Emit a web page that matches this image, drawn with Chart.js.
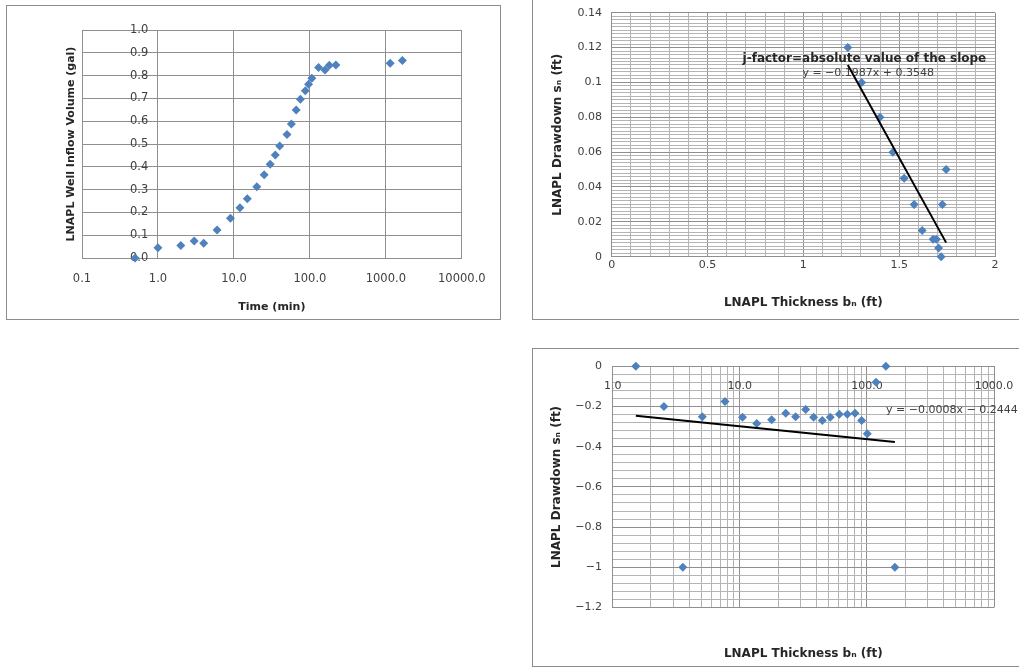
<!DOCTYPE html>
<html>
<head>
<meta charset="utf-8">
<title>LNAPL baildown test</title>
<script src="https://cdn.jsdelivr.net/npm/chart.js@4.4.1/dist/chart.umd.min.js"></script>
<style>
  html, body { margin: 0; padding: 0; background: #fff; width: 1019px; height: 668px; overflow: hidden; position: relative; }
  .panel { position: absolute; border: 1px solid #8c8c8c; background: #fff; }
  .panel canvas { display: block; }
  #p1 { left: 6px; top: 5px; }
  #p2 { left: 532px; top: -10px; }
  #p3 { left: 532px; top: 348px; }
</style>
</head>
<body>
<div class="panel" id="p1"><canvas id="c1" width="493" height="313"></canvas></div>
<div class="panel" id="p2"><canvas id="c2" width="506" height="328"></canvas></div>
<div class="panel" id="p3"><canvas id="c3" width="506" height="317"></canvas></div>
<script>
// ---- Well inflow volume vs. time ----
const p1Time   = [0.5, 1.0, 2.0, 3.0, 4.0, 6.0, 9.0, 12, 15, 20, 25, 30, 35, 40, 50, 57, 66, 75, 87, 96, 106, 130, 158, 180, 220, 1140, 1650];
const p1Volume = [0.0, 0.045, 0.055, 0.075, 0.065, 0.123, 0.174, 0.22, 0.26, 0.313, 0.365, 0.411, 0.452, 0.491, 0.542, 0.588, 0.649, 0.696, 0.734, 0.762, 0.788, 0.835, 0.825, 0.845, 0.847, 0.854, 0.866];
const p1XTicks = [0.1, 1, 10, 100, 1000, 10000];
// time value where the volume labels sit (just left of the 1.0 min line)
const p1LabelAnchor = 0.745;

// ---- Drawdown vs. thickness (linear) ----
const p2Thickness = [1.232, 1.304, 1.40, 1.467, 1.526, 1.578, 1.620, 1.677, 1.694, 1.706, 1.719, 1.725, 1.745];
const p2Drawdown  = [0.12, 0.10, 0.08, 0.06, 0.045, 0.03, 0.015, 0.01, 0.01, 0.005, 0.0, 0.03, 0.05];
const p2Slope = -0.1987;
const p2Intercept = 0.3548;

// ---- Drawdown vs. thickness (log) ----
const p3Thickness = [1.52, 2.53, 3.56, 5.07, 7.65, 10.5, 13.6, 17.8, 23.0, 27.5, 33.0, 38.1, 44.6, 51.5, 60.7, 70.1, 80.6, 90.9, 100.7, 118, 141, 166];
const p3Drawdown  = [0, -0.2, -1.0, -0.251, -0.175, -0.254, -0.284, -0.266, -0.234, -0.251, -0.215, -0.254, -0.27, -0.254, -0.238, -0.238, -0.233, -0.27, -0.336, -0.079, 0, -1.0];
const p3Decades = [1, 10, 100, 1000];
const p3Slope = -0.0008;
const p3Intercept = -0.2444;

const FONT = '"DejaVu Sans", Verdana, sans-serif';
Chart.defaults.font.family = FONT;
Chart.defaults.font.size = 11;
Chart.defaults.color = '#404040';

const BLUE = '#4f81bd';
const GRID_MAJOR = '#8f8f8f';
const GRID_MINOR = '#b4b4b4';
const TITLE_COLOR = '#262626';

const isMultiple = (v, step) => Math.abs(v / step - Math.round(v / step)) < 1e-6;
const signed = s => s.replace('-', '\u2212');
const fmtEq = (m, b) => 'y = ' + (m < 0 ? '\u2212' : '') + Math.abs(m).toFixed(4) + 'x ' + (b < 0 ? '\u2212 ' : '+ ') + Math.abs(b).toFixed(4);
const toPoints = (xs, ys) => xs.map((x, i) => ({ x: x, y: ys[i] }));
const trendPoints = (xs, m, b) => {
  const lo = Math.min(...xs), hi = Math.max(...xs);
  return [{ x: lo, y: m * lo + b }, { x: hi, y: m * hi + b }];
};

// Free text placed at data coordinates, under the datasets
const textNotes = {
  id: 'textNotes',
  beforeDatasetsDraw(chart, args, opts) {
    const { ctx, scales } = chart;
    (opts.items || []).forEach(it => {
      ctx.save();
      ctx.font = it.font;
      ctx.fillStyle = it.color;
      ctx.textAlign = 'left';
      ctx.textBaseline = 'middle';
      ctx.fillText(it.text, scales.x.getPixelForValue(it.x), scales.y.getPixelForValue(it.y));
      ctx.restore();
    });
  }
};

const baseOpts = {
  responsive: false,
  animation: false,
  events: [],
  plugins: { legend: { display: false }, tooltip: { enabled: false } }
};

const markerSet = (pts, r) => ({
  data: pts,
  pointStyle: 'rectRot',
  pointRadius: r,
  backgroundColor: BLUE,
  borderColor: BLUE,
  borderWidth: 0,
  showLine: false,
  clip: false,
  xAxisID: 'x',
  yAxisID: 'y'
});
const trendSet = pts => ({
  data: pts,
  showLine: true,
  borderColor: '#000',
  borderWidth: 2,
  pointRadius: 0,
  clip: false,
  xAxisID: 'x',
  yAxisID: 'y'
});

// Panel 1
new Chart(document.getElementById('c1'), {
  type: 'scatter',
  data: { datasets: [markerSet(toPoints(p1Time, p1Volume), 4.5)] },
  options: Object.assign({}, baseOpts, {
    layout: { padding: { left: 57.4, top: 24, right: 30.5, bottom: 0 } },
    scales: {
      x: {
        type: 'logarithmic', position: 'bottom', min: 0.1, max: 10000,
        afterBuildTicks: s => { s.ticks = p1XTicks.map(v => ({ value: v })); },
        afterFit: s => { s.height = 61; },
        ticks: { padding: 14.4, autoSkip: false, maxRotation: 0, font: { size: 11.5 }, callback: v => Number(v).toFixed(1) },
        grid: { color: GRID_MAJOR, drawTicks: false },
        border: { color: GRID_MAJOR },
        title: { display: true, text: 'Time (min)', color: TITLE_COLOR, font: { size: 11, weight: 'bold' }, padding: { top: 0, bottom: 5.4 } }
      },
      y: {
        type: 'linear', position: { x: p1LabelAnchor }, min: 0, max: 1,
        ticks: { stepSize: 0.1, padding: 0, font: { size: 11.5 }, callback: v => Number(v).toFixed(1) },
        grid: { color: GRID_MAJOR, drawTicks: false },
        border: { display: false }
      },
      yt: {
        type: 'linear', position: 'left',
        afterFit: s => { s.width = 17.6; },
        ticks: { display: false }, grid: { display: false }, border: { display: false },
        title: { display: true, text: 'LNAPL Well Inflow Volume (gal)', color: TITLE_COLOR, font: { size: 11, weight: 'bold' }, padding: 0 }
      }
    }
  })
});

// Panel 2
new Chart(document.getElementById('c2'), {
  type: 'scatter',
  data: { datasets: [
    trendSet(trendPoints(p2Thickness, p2Slope, p2Intercept)),
    markerSet(toPoints(p2Thickness, p2Drawdown), 4.5)
  ] },
  options: Object.assign({}, baseOpts, {
    layout: { padding: { left: 17.4, top: 21.7, right: 44, bottom: 0 } },
    plugins: Object.assign({}, baseOpts.plugins, {
      textNotes: { items: [
        { text: 'j-factor=absolute value of the slope', x: 0.683, y: 0.1137, font: 'bold 12px ' + FONT, color: TITLE_COLOR },
        { text: fmtEq(p2Slope, p2Intercept), x: 0.995, y: 0.1054, font: '11px ' + FONT, color: '#404040' }
      ] }
    }),
    scales: {
      x: {
        type: 'linear', position: 'bottom', min: 0, max: 2,
        afterFit: s => { s.height = 62.3; },
        ticks: { stepSize: 0.1, padding: 2, autoSkip: false, maxRotation: 0,
                 callback: v => isMultiple(v, 0.5) ? String(parseFloat(Number(v).toFixed(1))) : '' },
        grid: { color: c => isMultiple(c.tick.value, 0.5) ? GRID_MAJOR : GRID_MINOR, drawTicks: false },
        border: { color: GRID_MAJOR },
        title: { display: true, text: 'LNAPL Thickness b\u2099 (ft)', color: TITLE_COLOR, font: { size: 12, weight: 'bold' }, padding: { top: 0, bottom: 9.4 } }
      },
      y: {
        type: 'linear', position: 'left', min: 0, max: 0.14,
        afterFit: s => { s.width = 61.3; },
        ticks: { stepSize: 0.002, padding: 9.7, autoSkip: false,
                 callback: v => isMultiple(v, 0.02) ? String(parseFloat(Number(v).toFixed(2))) : '' },
        grid: { color: c => isMultiple(c.tick.value, 0.02) ? GRID_MAJOR : GRID_MINOR, drawTicks: false },
        border: { color: GRID_MAJOR },
        title: { display: true, text: 'LNAPL Drawdown s\u2099 (ft)', color: TITLE_COLOR, font: { size: 12, weight: 'bold' }, padding: 0 }
      }
    }
  }),
  plugins: [textNotes]
});

// Panel 3
const p3GridValues = [];
p3Decades.forEach((d, i) => {
  if (i < p3Decades.length - 1) { for (let k = 1; k < 10; k++) p3GridValues.push(d * k); }
  else p3GridValues.push(d);
});

new Chart(document.getElementById('c3'), {
  type: 'scatter',
  data: { datasets: [
    trendSet(trendPoints(p3Thickness, p3Slope, p3Intercept)),
    markerSet(toPoints(p3Thickness, p3Drawdown), 4.5)
  ] },
  options: Object.assign({}, baseOpts, {
    layout: { padding: { left: 16.4, top: 14.3, right: 45, bottom: 0 } },
    plugins: Object.assign({}, baseOpts.plugins, {
      textNotes: { items: [
        { text: fmtEq(p3Slope, p3Intercept), x: 141.4, y: -0.218, font: '11px ' + FONT, color: '#404040' }
      ] }
    }),
    scales: {
      x: {
        type: 'logarithmic', position: { y: 0 }, min: 1, max: 1000,
        afterBuildTicks: s => { s.ticks = p3GridValues.map(v => ({ value: v })); },
        ticks: { padding: 13, autoSkip: false, maxRotation: 0,
                 callback: v => p3Decades.includes(Number(v)) ? Number(v).toFixed(1) : '' },
        grid: { color: c => p3Decades.includes(c.tick.value) ? GRID_MAJOR : GRID_MINOR, drawTicks: false },
        border: { color: GRID_MAJOR }
      },
      y: {
        type: 'linear', position: 'left', min: -1.2, max: 0,
        afterFit: s => { s.width = 63.3; },
        ticks: { stepSize: 0.04, padding: 10.7, autoSkip: false,
                 callback: v => isMultiple(v, 0.2) ? signed(String(parseFloat(Number(v).toFixed(1)) || 0)) : '' },
        grid: { color: c => isMultiple(c.tick.value, 0.2) ? GRID_MAJOR : GRID_MINOR, drawTicks: false },
        border: { color: GRID_MAJOR },
        title: { display: true, text: 'LNAPL Drawdown s\u2099 (ft)', color: TITLE_COLOR, font: { size: 12, weight: 'bold' }, padding: 0 }
      },
      xt: {
        type: 'linear', position: 'bottom',
        afterFit: s => { s.height = 58.5; },
        ticks: { display: false }, grid: { display: false }, border: { display: false },
        title: { display: true, text: 'LNAPL Thickness b\u2099 (ft)', color: TITLE_COLOR, font: { size: 12, weight: 'bold' }, padding: { top: 0, bottom: 5.1 } }
      }
    }
  }),
  plugins: [textNotes]
});
</script>
</body>
</html>
